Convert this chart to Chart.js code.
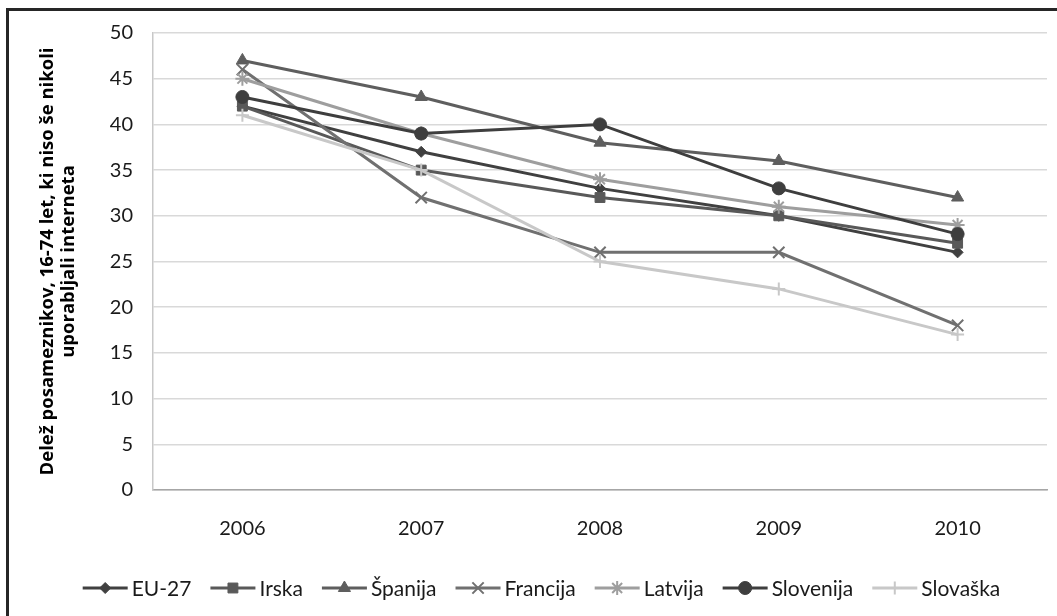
<!DOCTYPE html>
<html>
<head>
<meta charset="utf-8">
<script src="https://cdn.jsdelivr.net/npm/chart.js@4/dist/chart.umd.min.js"></script>
<style>
  html, body { margin: 0; padding: 0; background: #ffffff; }
  #frame { position: absolute; left: 6px; top: 8px; width: 1060px; height: 620px; border: 3px solid #262626; box-sizing: border-box; }
  #c { position: absolute; left: 0; top: 0; }
</style>
</head>
<body>
<div id="frame"></div>
<canvas id="c" width="1057" height="616"></canvas>
<script>
const years = ['2006', '2007', '2008', '2009', '2010'];
const seriesNames = ['EU-27', 'Irska', 'Španija', 'Francija', 'Latvija', 'Slovenija', 'Slovaška'];
const eu27      = [42, 37, 33, 30, 26];
const irska     = [42, 35, 32, 30, 27];
const spanija   = [47, 43, 38, 36, 32];
const francija  = [46, 32, 26, 26, 18];
const latvija   = [45, 39, 34, 31, 29];
const slovenija = [43, 39, 40, 33, 28];
const slovaska  = [41, 35, 25, 22, 17];
const yTitle = ['Delež posameznikov, 16-74 let, ki niso še nikoli', 'uporabljali interneta'];

const seriesValues = [eu27, irska, spanija, francija, latvija, slovenija, slovaska];
const colors  = ['#404040', '#595959', '#5e5e5e', '#707070', '#9e9e9e', '#3e3e3e', '#c8c8c8'];
const styles  = ['rectRot', 'rect', 'triangle', 'crossRot', 'star', 'circle', 'cross'];
const radii   = [5.5, 7, 7, 8, 7, 6.5, 6.5];
const pbw     = [1, 1, 1, 2, 2, 1, 2];

const FONT = 'Lato, "Open Sans", sans-serif';
const TITLE_FONT = '"Open Sans", Lato, sans-serif';

const datasets = seriesNames.map((name, i) => ({
  label: name,
  data: seriesValues[i],
  borderColor: colors[i],
  backgroundColor: colors[i],
  pointBackgroundColor: colors[i],
  pointBorderColor: colors[i],
  pointStyle: styles[i],
  pointRadius: radii[i],
  pointHoverRadius: radii[i],
  pointBorderWidth: pbw[i],
  borderWidth: 3,
  tension: 0,
  fill: false,
  order: 7 - i
}));

const legendPlugin = {
  id: 'customLegend',
  afterDraw(chart) {
    const ctx = chart.ctx;
    ctx.save();
    ctx.font = '21px ' + FONT;
    ctx.textBaseline = 'middle';
    const lineW = 45, gapT = 4, gapItem = 19;
    const widths = seriesNames.map(n => lineW + gapT + ctx.measureText(n).width);
    const total = widths.reduce((a, b) => a + b, 0) + gapItem * (widths.length - 1);
    let x = 541.5 - total / 2;
    const y = 588;
    seriesNames.forEach((n, i) => {
      ctx.strokeStyle = colors[i];
      ctx.fillStyle = colors[i];
      ctx.lineWidth = 3;
      ctx.beginPath();
      ctx.moveTo(x, y);
      ctx.lineTo(x + lineW, y);
      ctx.stroke();
      ctx.lineWidth = pbw[i];
      if (Chart.helpers && Chart.helpers.drawPoint) {
        Chart.helpers.drawPoint(ctx, { pointStyle: styles[i], radius: radii[i], rotation: 0, borderWidth: pbw[i] }, x + lineW / 2, y);
      }
      ctx.fillStyle = '#1a1a1a';
      ctx.textAlign = 'left';
      ctx.fillText(n, x + lineW + gapT, y + 1);
      x += widths[i] + gapItem;
    });
    ctx.restore();
  }
};

new Chart(document.getElementById('c'), {
  type: 'line',
  data: { labels: years, datasets },
  plugins: [legendPlugin],
  options: {
    responsive: false,
    devicePixelRatio: 1,
    animation: false,
    events: [],
    layout: { padding: { left: 35, right: 10, top: 33, bottom: 66 } },
    plugins: { legend: { display: false }, tooltip: { enabled: false } },
    scales: {
      x: {
        type: 'category',
        offset: true,
        grid: { display: true, drawOnChartArea: false, drawTicks: false, color: 'rgba(0,0,0,0)' },
        border: { display: true, color: '#a6a6a6', width: 1.5 },
        ticks: { color: '#1a1a1a', font: { family: FONT, size: 20 }, padding: 27, maxRotation: 0 },
        afterFit(scale) { scale.height = 60; }
      },
      y: {
        min: 0, max: 50,
        ticks: { stepSize: 5, color: '#1a1a1a', font: { family: FONT, size: 20 }, padding: 20 },
        grid: { color: '#d9d9d9', lineWidth: 1.5, drawTicks: false },
        border: { display: true, color: '#c8c8c8', width: 1.5 },
        title: {
          display: true,
          text: yTitle,
          color: '#000000',
          font: { family: TITLE_FONT, size: 18.5, weight: 'bold', lineHeight: 1.15 },
          padding: { top: 2, bottom: 0 }
        },
        afterFit(scale) { scale.width = 118; }
      }
    }
  }
});
</script>
</body>
</html>
